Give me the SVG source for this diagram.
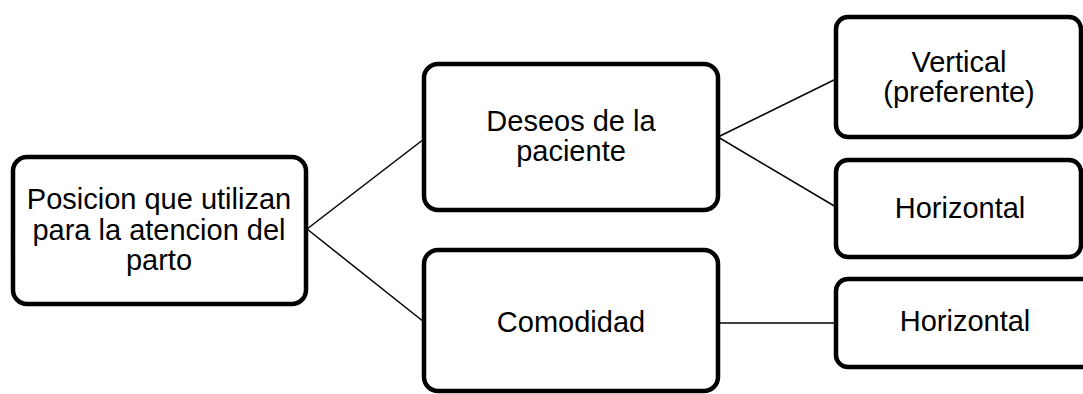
<svg xmlns="http://www.w3.org/2000/svg" width="1083" height="394" viewBox="0 0 1083 394">
<style>
.box{fill:#fff;stroke:#000;stroke-width:4.5}
.lbl{font-family:"Liberation Sans",Arial,sans-serif;font-size:29px;fill:#000;text-anchor:middle}
.con{stroke:#000;stroke-width:1.5;fill:none}
</style>
<rect width="1083" height="394" fill="#fff"/>
<g id="connectors">
<line class="con" x1="307" y1="229" x2="424" y2="139"/>
<line class="con" x1="307" y1="229" x2="424" y2="322"/>
<line class="con" x1="718" y1="137" x2="836" y2="79"/>
<line class="con" x1="718" y1="137" x2="836" y2="207"/>
<line class="con" x1="718" y1="323" x2="836" y2="323"/>
</g>
<g id="n-posicion">
<rect class="box" x="13" y="157" width="293" height="147" rx="14"/>
<text class="lbl" x="159" y="209">Posicion que utilizan</text>
<text class="lbl" x="159" y="240">para la atencion del</text>
<text class="lbl" x="159" y="270">parto</text>
</g>
<g id="n-deseos">
<rect class="box" x="424" y="64" width="294" height="146" rx="14"/>
<text class="lbl" x="571" y="131">Deseos de la</text>
<text class="lbl" x="571" y="161">paciente</text>
</g>
<g id="n-comodidad">
<rect class="box" x="424" y="250" width="294" height="141" rx="14"/>
<text class="lbl" x="571" y="332">Comodidad</text>
</g>
<g id="n-vertical">
<rect class="box" x="836" y="17" width="245" height="120" rx="12"/>
<text class="lbl" x="959" y="72">Vertical</text>
<text class="lbl" x="959" y="102">(preferente)</text>
</g>
<g id="n-horizontal1">
<rect class="box" x="836" y="160" width="245" height="97" rx="12"/>
<text class="lbl" x="960" y="218">Horizontal</text>
</g>
<g id="n-horizontal2">
<rect class="box" x="836" y="279" width="258" height="88" rx="12"/>
<text class="lbl" x="965" y="331">Horizontal</text>
</g>
</svg>
